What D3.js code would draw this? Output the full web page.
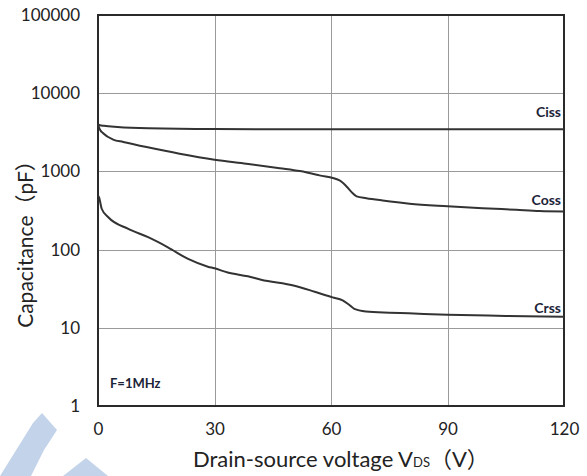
<!DOCTYPE html>
<html>
<head>
<meta charset="utf-8">
<script src="https://cdn.jsdelivr.net/npm/d3@7"></script>
<style>
  html, body { margin: 0; padding: 0; background: #fff; }
  svg { display: block; }
</style>
</head>
<body>
<svg id="chart" width="587" height="476"></svg>
<script>
// Drain-source voltage (V) and capacitance (pF) samples for each curve
const cissV = [0, 0.5, 1.5, 5, 13, 30, 60, 90, 120];
const cissC = [4000, 3900, 3830, 3700, 3560, 3480, 3460, 3450, 3450];

const cossV = [0, 0.4, 1.4, 3.9, 6.5, 12.5, 21, 30, 38.2, 46.8, 52, 57, 62.2, 64, 65.3, 66.6, 69.1, 73.3, 80.2, 90, 99, 107.7, 113.7, 120];
const cossC = [4000, 3500, 3050, 2550, 2380, 2050, 1685, 1413, 1255, 1100, 1010, 890, 767, 642, 543, 480, 455, 425, 387, 359, 339, 323, 312, 308];

const crssV = [0, 0.25, 0.95, 2.65, 7.8, 12.9, 18, 23.2, 28.3, 30, 33.4, 38.6, 42, 50.6, 55.8, 60.4, 63, 64.5, 66, 69, 75, 80, 90, 105, 120];
const crssC = [490, 468, 333, 259, 184, 144, 107, 76, 60.5, 57.6, 51, 45.5, 41.2, 34.5, 28.9, 24.5, 22.5, 20, 17.5, 16.2, 15.6, 15.3, 14.7, 14.2, 13.8];

const xTicks = [0, 30, 60, 90, 120];
const yTicks = [1, 10, 100, 1000, 10000, 100000];
const yTickLabels = ["1", "10", "100", "1000", "10000", "100000"];

const curveNames = ["Ciss", "Coss", "Crss"];

const svg = d3.select("#chart");
const plot = { left: 98, right: 564, top: 15, bottom: 406 };

const x = d3.scaleLinear().domain([0, 120]).range([plot.left, plot.right]);
const y = d3.scaleLog().domain([1, 100000]).range([plot.bottom, plot.top]);

const font = "Lato, 'Noto Sans', 'Noto Sans CJK SC', sans-serif";

// Faint logo mark in the lower-left corner
const mark = svg.append("g").attr("fill", "#c3d4ea");
mark.append("path").attr("d", "M0,476 L33,423 L42,413 L57,430 L44,450 L31,476 Z");
mark.append("path").attr("d", "M63,476 L86,458 L108,476 Z");

// Grid lines
const grid = svg.append("g").attr("stroke", "#9a9a9a").attr("stroke-width", 1);
grid.selectAll("line.h").data(yTicks.slice(1, -1)).join("line")
  .attr("x1", plot.left).attr("x2", plot.right)
  .attr("y1", d => Math.round(y(d)) + 0.5).attr("y2", d => Math.round(y(d)) + 0.5);
grid.selectAll("line.v").data(xTicks.slice(1, -1)).join("line")
  .attr("y1", plot.top).attr("y2", plot.bottom)
  .attr("x1", d => Math.round(x(d)) + 0.5).attr("x2", d => Math.round(x(d)) + 0.5);

// Axes (labels only; frame drawn separately)
const yAxis = d3.axisLeft(y).tickValues(yTicks)
  .tickFormat((d, i) => yTickLabels[i]).tickSize(0).tickPadding(18);
const gy = svg.append("g").attr("transform", `translate(${plot.left},0)`).call(yAxis);
gy.select(".domain").remove();
gy.selectAll("text").attr("font-family", font).attr("font-size", 17).attr("fill", "#222");

const xAxis = d3.axisBottom(x).tickValues(xTicks).tickSize(0).tickPadding(17);
const gx = svg.append("g").attr("transform", `translate(0,${plot.bottom})`).call(xAxis);
gx.select(".domain").remove();
gx.selectAll("text").attr("font-family", font).attr("font-size", 17).attr("fill", "#222");

// Plot frame
svg.append("rect")
  .attr("x", plot.left).attr("y", plot.top)
  .attr("width", plot.right - plot.left).attr("height", plot.bottom - plot.top)
  .attr("fill", "none").attr("stroke", "#2a2a2a").attr("stroke-width", 2);

// Curves
const line = d3.line().x(d => x(d[0])).y(d => y(d[1])).curve(d3.curveMonotoneX);
const series = [
  d3.zip(cissV, cissC),
  d3.zip(cossV, cossC),
  d3.zip(crssV, crssC)
];
svg.append("g").selectAll("path").data(series).join("path")
  .attr("d", line)
  .attr("fill", "none").attr("stroke", "#333").attr("stroke-width", 2)
  .attr("stroke-linejoin", "round");

// Curve labels
const labelBaselines = [117, 205, 313];
svg.append("g").selectAll("text").data(curveNames).join("text")
  .attr("x", plot.right - 3).attr("y", (d, i) => labelBaselines[i])
  .attr("text-anchor", "end")
  .attr("font-family", font).attr("font-weight", "bold").attr("font-size", 14)
  .attr("fill", "#1c2438")
  .text(d => d);

// Test condition
svg.append("text")
  .attr("x", 110).attr("y", 388)
  .attr("font-family", font).attr("font-weight", "bold").attr("font-size", 13)
  .attr("fill", "#1c2438")
  .text("F=1MHz");

// Axis titles
const xTitle = svg.append("text")
  .attr("x", 193).attr("y", 467)
  .attr("font-family", font).attr("font-size", 22).attr("fill", "#222");
xTitle.append("tspan").text("Drain-source voltage V");
xTitle.append("tspan").attr("font-size", 13).text("DS");
xTitle.append("tspan").text("（V）");

svg.append("text")
  .attr("transform", "translate(33,239) rotate(-90)")
  .attr("text-anchor", "middle")
  .attr("font-family", font).attr("font-size", 21).attr("fill", "#222")
  .text("Capacitance（pF）");
</script>
</body>
</html>
